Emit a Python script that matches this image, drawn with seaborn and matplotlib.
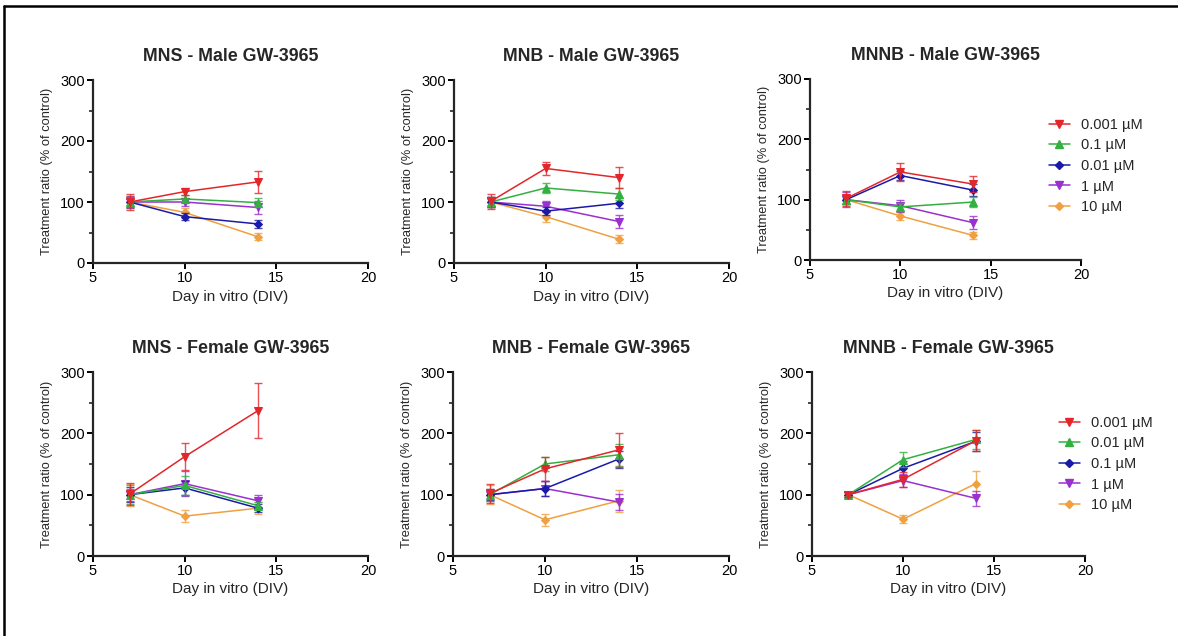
from __future__ import annotations

import matplotlib as mpl
import matplotlib.pyplot as plt
import seaborn as sns
from matplotlib.lines import Line2D
from matplotlib.ticker import MultipleLocator

sns.set_style("ticks")
mpl.rcParams.update(
    {
        "font.family": ["Liberation Sans", "DejaVu Sans"],
        "font.size": 10,
        "axes.linewidth": 1.6,
        "xtick.major.width": 1.4,
        "ytick.major.width": 1.4,
        "ytick.minor.width": 1.2,
        "xtick.major.size": 4,
        "ytick.major.size": 4,
        "ytick.minor.size": 3,
        "legend.frameon": False,
    }
)

DAYS = [7, 10, 14]

TOP_LABELS = ["0.001 µM", "0.1 µM", "0.01 µM", "1 µM", "10 µM"]
BOTTOM_LABELS = ["0.001 µM", "0.01 µM", "0.1 µM", "1 µM", "10 µM"]
COLORS = ["#E3262B", "#33B040", "#1A1AA8", "#9A30D0", "#F0A040"]
MARKERS = ["v", "^", "D", "v", "D"]

TITLES = [
    "MNS - Male GW-3965",
    "MNB - Male GW-3965",
    "MNNB - Male GW-3965",
    "MNS - Female GW-3965",
    "MNB - Female GW-3965",
    "MNNB - Female GW-3965",
]

# means (rows follow the legend order of that row of panels)
MNS_MALE_MEAN = [[100, 117, 133], [100, 105, 99], [100, 76, 64], [100, 100, 91], [100, 83, 43]]
MNS_MALE_ERR = [[13, 6, 18], [8, 6, 7], [8, 6, 7], [10, 7, 10], [10, 7, 6]]
MNB_MALE_MEAN = [[101, 155, 140], [100, 123, 113], [100, 85, 98], [100, 93, 68], [100, 76, 39]]
MNB_MALE_ERR = [[12, 10, 17], [8, 8, 10], [8, 6, 8], [8, 9, 11], [8, 8, 7]]
MNNB_MALE_MEAN = [[102, 146, 126], [100, 88, 96], [100, 140, 116], [100, 90, 62], [100, 73, 41]]
MNNB_MALE_ERR = [[12, 15, 13], [8, 6, 8], [8, 8, 10], [12, 10, 11], [8, 7, 6]]
MNS_FEMALE_MEAN = [[101, 162, 237], [100, 115, 82], [100, 111, 78], [100, 118, 90], [100, 65, 78]]
MNS_FEMALE_ERR = [[18, 22, 45], [15, 15, 6], [12, 12, 6], [10, 20, 10], [18, 10, 10]]
MNB_FEMALE_MEAN = [[102, 142, 173], [100, 150, 165], [100, 110, 158], [100, 110, 88], [100, 59, 90]]
MNB_FEMALE_ERR = [[15, 20, 28], [10, 12, 18], [8, 12, 14], [10, 12, 13], [15, 10, 18]]
MNNB_FEMALE_MEAN = [[100, 125, 188], [100, 157, 190], [100, 143, 187], [100, 123, 94], [100, 60, 118]]
MNNB_FEMALE_ERR = [[4, 12, 17], [4, 12, 15], [4, 12, 15], [4, 10, 12], [4, 7, 20]]

PANELS = [
    (MNS_MALE_MEAN, MNS_MALE_ERR),
    (MNB_MALE_MEAN, MNB_MALE_ERR),
    (MNNB_MALE_MEAN, MNNB_MALE_ERR),
    (MNS_FEMALE_MEAN, MNS_FEMALE_ERR),
    (MNB_FEMALE_MEAN, MNB_FEMALE_ERR),
    (MNNB_FEMALE_MEAN, MNNB_FEMALE_ERR),
]

W, H = 1178, 636
# axes boxes in pixels: left, right, top, bottom
BOXES = [
    (93, 368, 80, 263),
    (454, 729, 80, 263),
    (810, 1081, 79, 260),
    (93, 368, 372, 556),
    (453, 729, 372, 556),
    (812, 1085, 372, 556),
]


def msize(m: str) -> float:
    return 5.5 if m != "D" else 4


def main() -> None:
    fig = plt.figure(figsize=(W / 100, H / 100), dpi=100)
    for i, ((means, errs), (l, r, t, b)) in enumerate(zip(PANELS, BOXES)):
        ax = fig.add_axes([l / W, 1 - b / H, (r - l) / W, (b - t) / H])
        labels = TOP_LABELS if i < 3 else BOTTOM_LABELS
        for j in range(5):
            z = 10 - j
            sns.lineplot(
                x=DAYS,
                y=means[j],
                color=COLORS[j],
                marker=MARKERS[j],
                markersize=msize(MARKERS[j]),
                markeredgecolor=COLORS[j],
                linewidth=1.1,
                ax=ax,
                zorder=z,
                legend=False,
            )
            ax.errorbar(
                DAYS,
                means[j],
                yerr=errs[j],
                fmt="none",
                ecolor=COLORS[j],
                elinewidth=1.0,
                capsize=3,
                capthick=1.0,
                alpha=0.8,
                zorder=z,
            )
        ax.set_xlim(5, 20)
        ax.set_ylim(0, 300)
        ax.xaxis.set_major_locator(MultipleLocator(5))
        ax.yaxis.set_major_locator(MultipleLocator(100))
        ax.yaxis.set_minor_locator(MultipleLocator(50))
        ax.tick_params(axis="both", labelsize=10.5, pad=2, colors="black")
        ax.spines["right"].set_visible(False)
        ax.spines["top"].set_visible(False)
        ax.set_xlabel("Day in vitro (DIV)", fontsize=11, labelpad=3)
        ax.set_ylabel("Treatment ratio (% of control)", fontsize=9.3, labelpad=5)
        ax.set_title(TITLES[i], fontsize=12.8, fontweight="bold", pad=14)

        if i in (2, 5):
            handles = [
                Line2D([], [], color=COLORS[j], marker=MARKERS[j],
                       markersize=msize(MARKERS[j]), linewidth=1.1)
                for j in range(5)
            ]
            anchor = (1036 / W, 1 - 166 / H) if i == 2 else (1046 / W, 1 - 464 / H)
            fig.legend(
                handles,
                labels,
                loc="center left",
                bbox_to_anchor=anchor,
                fontsize=10.5,
                handlelength=1.4,
                handletextpad=0.8,
                labelspacing=0.45,
                frameon=False,
            )

    # partial frame around the figure
    fig.add_artist(Line2D([4 / W, 4 / W], [0, 1 - 6 / H], color="black", lw=1.8, transform=fig.transFigure))
    fig.add_artist(Line2D([4 / W, 1], [1 - 6 / H, 1 - 6 / H], color="black", lw=1.8, transform=fig.transFigure))

    fig.savefig("out.png", dpi=100)


if __name__ == "__main__":
    main()
